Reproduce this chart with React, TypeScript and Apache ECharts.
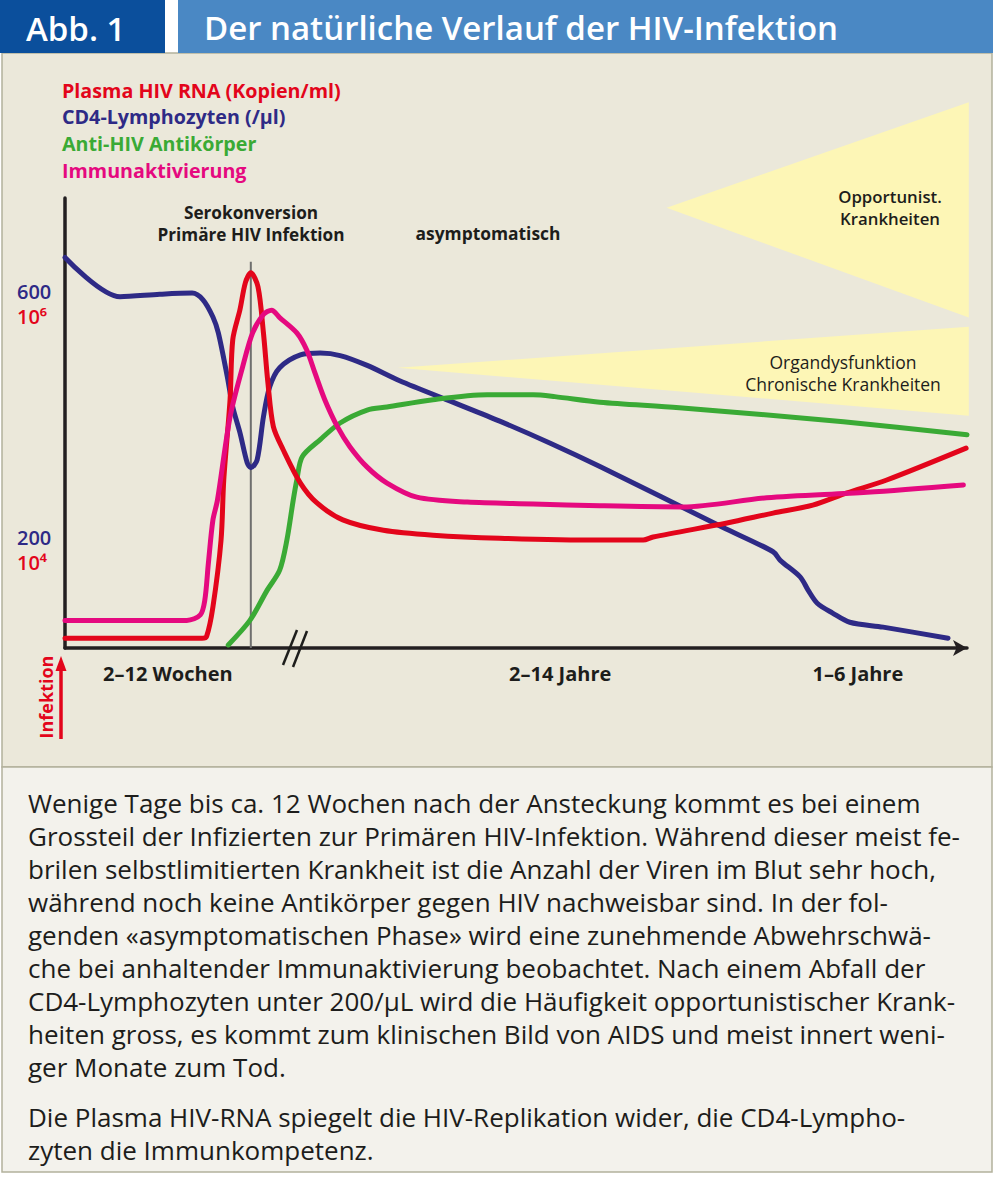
import React, { useEffect, useRef } from 'react';
import * as echarts from 'echarts';

const FONT = "'Open Sans', 'Noto Sans', 'DejaVu Sans', sans-serif";

// ---- Data (x: relative time 0–100, y: CD4 scale cells/µl) ----
const seriesNames = [
  'Plasma HIV RNA (Kopien/ml)',
  'CD4-Lymphozyten (/µl)',
  'Anti-HIV Antikörper',
  'Immunaktivierung',
];
const seriesColors = ['#e3051b', '#2e2a86', '#3aaa35', '#e5097f'];

const rnaPoints: [number, number][] = [
  [0, 35], [15.2, 35], [15.7, 38], [16.4, 86], [17.3, 195], [17.6, 293], [18.3, 424], [18.6, 522],
  [19.4, 571], [20.0, 615], [20.6, 631], [21.4, 608], [22.0, 533], [22.5, 451], [23.1, 380],
  [24.2, 342], [26.1, 288], [27.9, 256], [30.8, 228], [35.3, 211], [40.8, 203], [48.2, 198],
  [59.3, 195], [64.1, 195], [65.2, 200], [73.4, 223], [78.5, 239], [82.9, 252], [86.7, 272],
  [91.1, 293], [99.9, 345],
];
const cd4Points: [number, number][] = [
  [0, 656], [6.1, 592], [10.5, 596], [14.1, 598], [15.3, 587], [16.4, 559], [17.0, 533], [18.0, 461],
  [18.6, 412], [19.4, 370], [20.2, 321], [20.6, 313], [21.3, 326], [22.0, 396], [22.7, 445],
  [23.8, 476], [26.1, 497], [28.3, 500], [30.5, 496], [33.5, 480], [37.1, 455], [43.0, 420],
  [48.2, 389], [53.8, 353], [59.3, 315], [72.9, 216], [78.5, 176], [79.3, 162], [81.5, 135],
  [82.4, 113], [83.4, 92], [85.1, 76], [87.0, 61], [90.7, 53], [97.9, 35],
];
const antibodyPoints: [number, number][] = [
  [18.1, 24], [20.5, 64], [22.4, 113], [23.8, 146], [24.6, 195], [25.3, 260], [25.7, 293],
  [26.3, 331], [28.3, 359], [30.5, 386], [33.5, 407], [35.7, 412], [40.8, 424], [46.8, 432],
  [51.9, 432], [54.3, 429], [59.3, 420], [68.1, 411], [86.3, 388], [100, 367],
];
const immunePoints: [number, number][] = [
  [0, 64], [13.5, 64], [15.0, 73], [15.5, 97], [15.9, 158], [16.4, 228], [16.9, 260], [18.3, 396],
  [19.7, 478], [20.8, 533], [22.0, 563], [22.9, 570], [23.8, 558], [25.7, 533], [26.8, 505],
  [27.7, 468], [28.8, 424], [30.2, 380], [31.6, 347], [33.5, 314], [35.7, 288], [39.0, 265],
  [44.6, 257], [51.9, 254], [59.3, 251], [68.5, 249], [77.8, 264], [88.9, 273], [99.6, 285],
];
const seroconversionLine: [number, number][] = [[20.6, 19], [20.6, 649]];

const triangleOpportunist: [number, number][] = [[66.7, 737], [100.2, 909], [100.2, 558]];
const triangleOrgan: [number, number][] = [[36.9, 476], [100.2, 543], [100.2, 398]];
const triangles = [triangleOpportunist, triangleOrgan];

const xTickValues = [11.4, 54.9, 87.9];
const xTickLabels = ['2–12 Wochen', '2–14 Jahre', '1–6 Jahre'];
const yTickValues = [200, 600];
const yTickLabelsCD4 = ['200', '600'];
const yTickLabelsRNA = ['10⁴', '10⁶'];

const bodyParagraph1 = [
  'Wenige Tage bis ca. 12 Wochen nach der Ansteckung kommt es bei einem',
  'Grossteil der Infizierten zur Primären HIV-Infektion. Während dieser meist fe-',
  'brilen selbstlimitierten Krankheit ist die Anzahl der Viren im Blut sehr hoch,',
  'während noch keine Antikörper gegen HIV nachweisbar sind. In der fol-',
  'genden «asymptomatischen Phase» wird eine zunehmende Abwehrschwä-',
  'che bei anhaltender Immunaktivierung beobachtet. Nach einem Abfall der',
  'CD4-Lymphozyten unter 200/µL wird die Häufigkeit opportunistischer Krank-',
  'heiten gross, es kommt zum klinischen Bild von AIDS und meist innert weni-',
  'ger Monate zum Tod.',
];
const bodyParagraph2 = [
  'Die Plasma HIV-RNA spiegelt die HIV-Replikation wider, die CD4-Lympho-',
  'zyten die Immunkompetenz.',
];

function nearestIndex(arr: number[], v: number) {
  let best = 0;
  for (let i = 1; i < arr.length; i++) if (Math.abs(arr[i] - v) < Math.abs(arr[best] - v)) best = i;
  return best;
}

function buildOption(): any {
  const black = '#1d1d1b';
  const bodyFont = `400 26px ${FONT}`;
  const bodyTexts: any[] = [];
  bodyParagraph1.forEach((t, i) => {
    bodyTexts.push({
      type: 'text', x: 28, y: 803 + i * 33, z: 10,
      style: { text: t, font: bodyFont, fill: black, textAlign: 'left', textVerticalAlign: 'middle' },
    });
  });
  bodyParagraph2.forEach((t, i) => {
    bodyTexts.push({
      type: 'text', x: 28, y: 1117 + i * 33, z: 10,
      style: { text: t, font: bodyFont, fill: black, textAlign: 'left', textVerticalAlign: 'middle' },
    });
  });

  const label = (text: string, x: number, y: number, font: string, fill = black, align = 'center') => ({
    type: 'text', x, y, z: 10,
    style: { text, font, fill, textAlign: align, textVerticalAlign: 'middle' },
  });

  const lineSeries = (name: string, color: string, data: [number, number][], z: number) => ({
    type: 'line', name, data, showSymbol: false, smooth: 0.3, z,
    lineStyle: { color, width: 5, cap: 'round', join: 'round' },
    itemStyle: { color }, silent: true, clip: false,
  });

  return {
    animation: false,
    backgroundColor: '#ffffff',
    textStyle: { fontFamily: FONT },
    grid: { left: 65, right: 27, top: 198, bottom: 529, containLabel: false },
    legend: {
      orient: 'vertical', left: 57, top: 80, padding: 0,
      icon: 'none', itemWidth: 0, itemHeight: 0, itemGap: 6.7,
      selectedMode: false,
      textStyle: { fontSize: 19.7, fontWeight: 'bold', fontFamily: FONT, lineHeight: 20 },
      data: seriesNames.map((n, i) => ({ name: n, textStyle: { color: seriesColors[i] } })),
    },
    xAxis: {
      type: 'value', min: 0, max: 100,
      axisLine: {
        show: true, onZero: false, symbol: ['none', 'arrow'], symbolSize: [12, 14],
        lineStyle: { color: '#231f20', width: 3.5 },
      },
      axisTick: { show: false },
      splitLine: { show: false },
      axisLabel: {
        customValues: xTickValues,
        formatter: (v: number) => xTickLabels[nearestIndex(xTickValues, v)],
        margin: 15, fontSize: 20, fontWeight: 'bold', color: black, fontFamily: FONT,
      },
    },
    yAxis: [
      {
        type: 'value', min: 19, max: 753,
        axisLine: { show: true, onZero: false, lineStyle: { color: '#231f20', width: 3.5 } },
        axisTick: { show: false },
        splitLine: { show: false },
        axisLabel: {
          customValues: yTickValues,
          formatter: (v: number) => yTickLabelsCD4[nearestIndex(yTickValues, v)],
          align: 'left', margin: 48, fontSize: 20, lineHeight: 20, fontWeight: 600, color: '#2e2a86', fontFamily: FONT,
        },
      },
      {
        // label-only axis for the RNA scale, its labels sit one line below the CD4 labels
        type: 'value', min: 60, max: 794, position: 'left',
        axisLine: { show: false }, axisTick: { show: false }, splitLine: { show: false },
        axisLabel: {
          customValues: yTickValues,
          formatter: (v: number) => yTickLabelsRNA[nearestIndex(yTickValues, v)],
          align: 'left', margin: 48, fontSize: 20, lineHeight: 20, fontWeight: 600, color: '#e3051b', fontFamily: FONT,
        },
      },
    ],
    series: [
      {
        type: 'custom', name: 'Bereiche', silent: true, z: 1, clip: false,
        data: triangles.map((t) => t[0]),
        encode: { x: 0, y: 1 },
        renderItem: (params: any, api: any) => {
          const tri = triangles[params.dataIndex];
          return {
            type: 'polygon',
            shape: { points: tri.map((p) => api.coord(p)) },
            style: { fill: '#fdf6b6' },
          };
        },
      },
      {
        type: 'line', name: 'Serokonversion', data: seroconversionLine, showSymbol: false, silent: true, z: 1,
        lineStyle: { color: '#6f6f6e', width: 2 },
      },
      lineSeries(seriesNames[1], seriesColors[1], cd4Points, 3),
      lineSeries(seriesNames[2], seriesColors[2], antibodyPoints, 4),
      lineSeries(seriesNames[0], seriesColors[0], rnaPoints, 5),
      lineSeries(seriesNames[3], seriesColors[3], immunePoints, 6),
    ],
    graphic: [
      // panels
      { type: 'rect', z: -10, shape: { x: 2, y: 53, width: 990, height: 714 }, style: { fill: '#ebe8da', stroke: '#b3b19c', lineWidth: 1.5 } },
      { type: 'rect', z: -10, shape: { x: 2, y: 767, width: 990, height: 405 }, style: { fill: '#f3f2ec', stroke: '#b3b19c', lineWidth: 1.5 } },
      // header
      { type: 'rect', z: -5, shape: { x: 0, y: 0, width: 165, height: 53 }, style: { fill: '#0b4f9c' } },
      { type: 'rect', z: -5, shape: { x: 178, y: 0, width: 815, height: 53 }, style: { fill: '#4a88c4' } },
      label('Abb. 1', 26, 28, `600 33px ${FONT}`, '#ffffff', 'left'),
      label('Der natürliche Verlauf der HIV-Infektion', 204, 27, `600 33px ${FONT}`, '#ffffff', 'left'),
      // phase annotations
      label('Serokonversion', 251, 212, `700 17.2px ${FONT}`),
      label('Primäre HIV Infektion', 251, 234, `700 17.2px ${FONT}`),
      label('asymptomatisch', 488, 233, `700 17.4px ${FONT}`),
      label('Opportunist.', 890, 196.5, `600 16.8px ${FONT}`),
      label('Krankheiten', 890, 218.5, `600 16.8px ${FONT}`),
      label('Organdysfunktion', 843, 361.5, `500 17.5px ${FONT}`),
      label('Chronische Krankheiten', 843, 383.5, `500 17.5px ${FONT}`),
      // axis break
      { type: 'line', z: 10, shape: { x1: 283, y1: 665, x2: 297, y2: 630 }, style: { stroke: black, lineWidth: 2.5 } },
      { type: 'line', z: 10, shape: { x1: 293, y1: 667, x2: 307, y2: 631 }, style: { stroke: black, lineWidth: 2.5 } },
      // infection arrow
      { type: 'line', z: 10, shape: { x1: 61, y1: 739, x2: 61, y2: 668 }, style: { stroke: '#e3051b', lineWidth: 3.5 } },
      { type: 'polygon', z: 10, shape: { points: [[61, 656], [55.5, 671], [66.5, 671]] }, style: { fill: '#e3051b' } },
      {
        type: 'text', x: 46, y: 697, rotation: Math.PI / 2, z: 10,
        style: { text: 'Infektion', font: `700 18px ${FONT}`, fill: '#e3051b', textAlign: 'center', textVerticalAlign: 'middle' },
      },
      ...bodyTexts,
    ],
  };
}

export default function App() {
  const ref = useRef<HTMLDivElement>(null);
  useEffect(() => {
    if (!ref.current) return;
    const chart = echarts.init(ref.current, null, { renderer: 'svg', width: 994, height: 1177 });
    chart.setOption(buildOption());
    return () => chart.dispose();
  }, []);
  return <div ref={ref} style={{ position: 'absolute', left: 0, top: 0, width: 994, height: 1177 }} />;
}
